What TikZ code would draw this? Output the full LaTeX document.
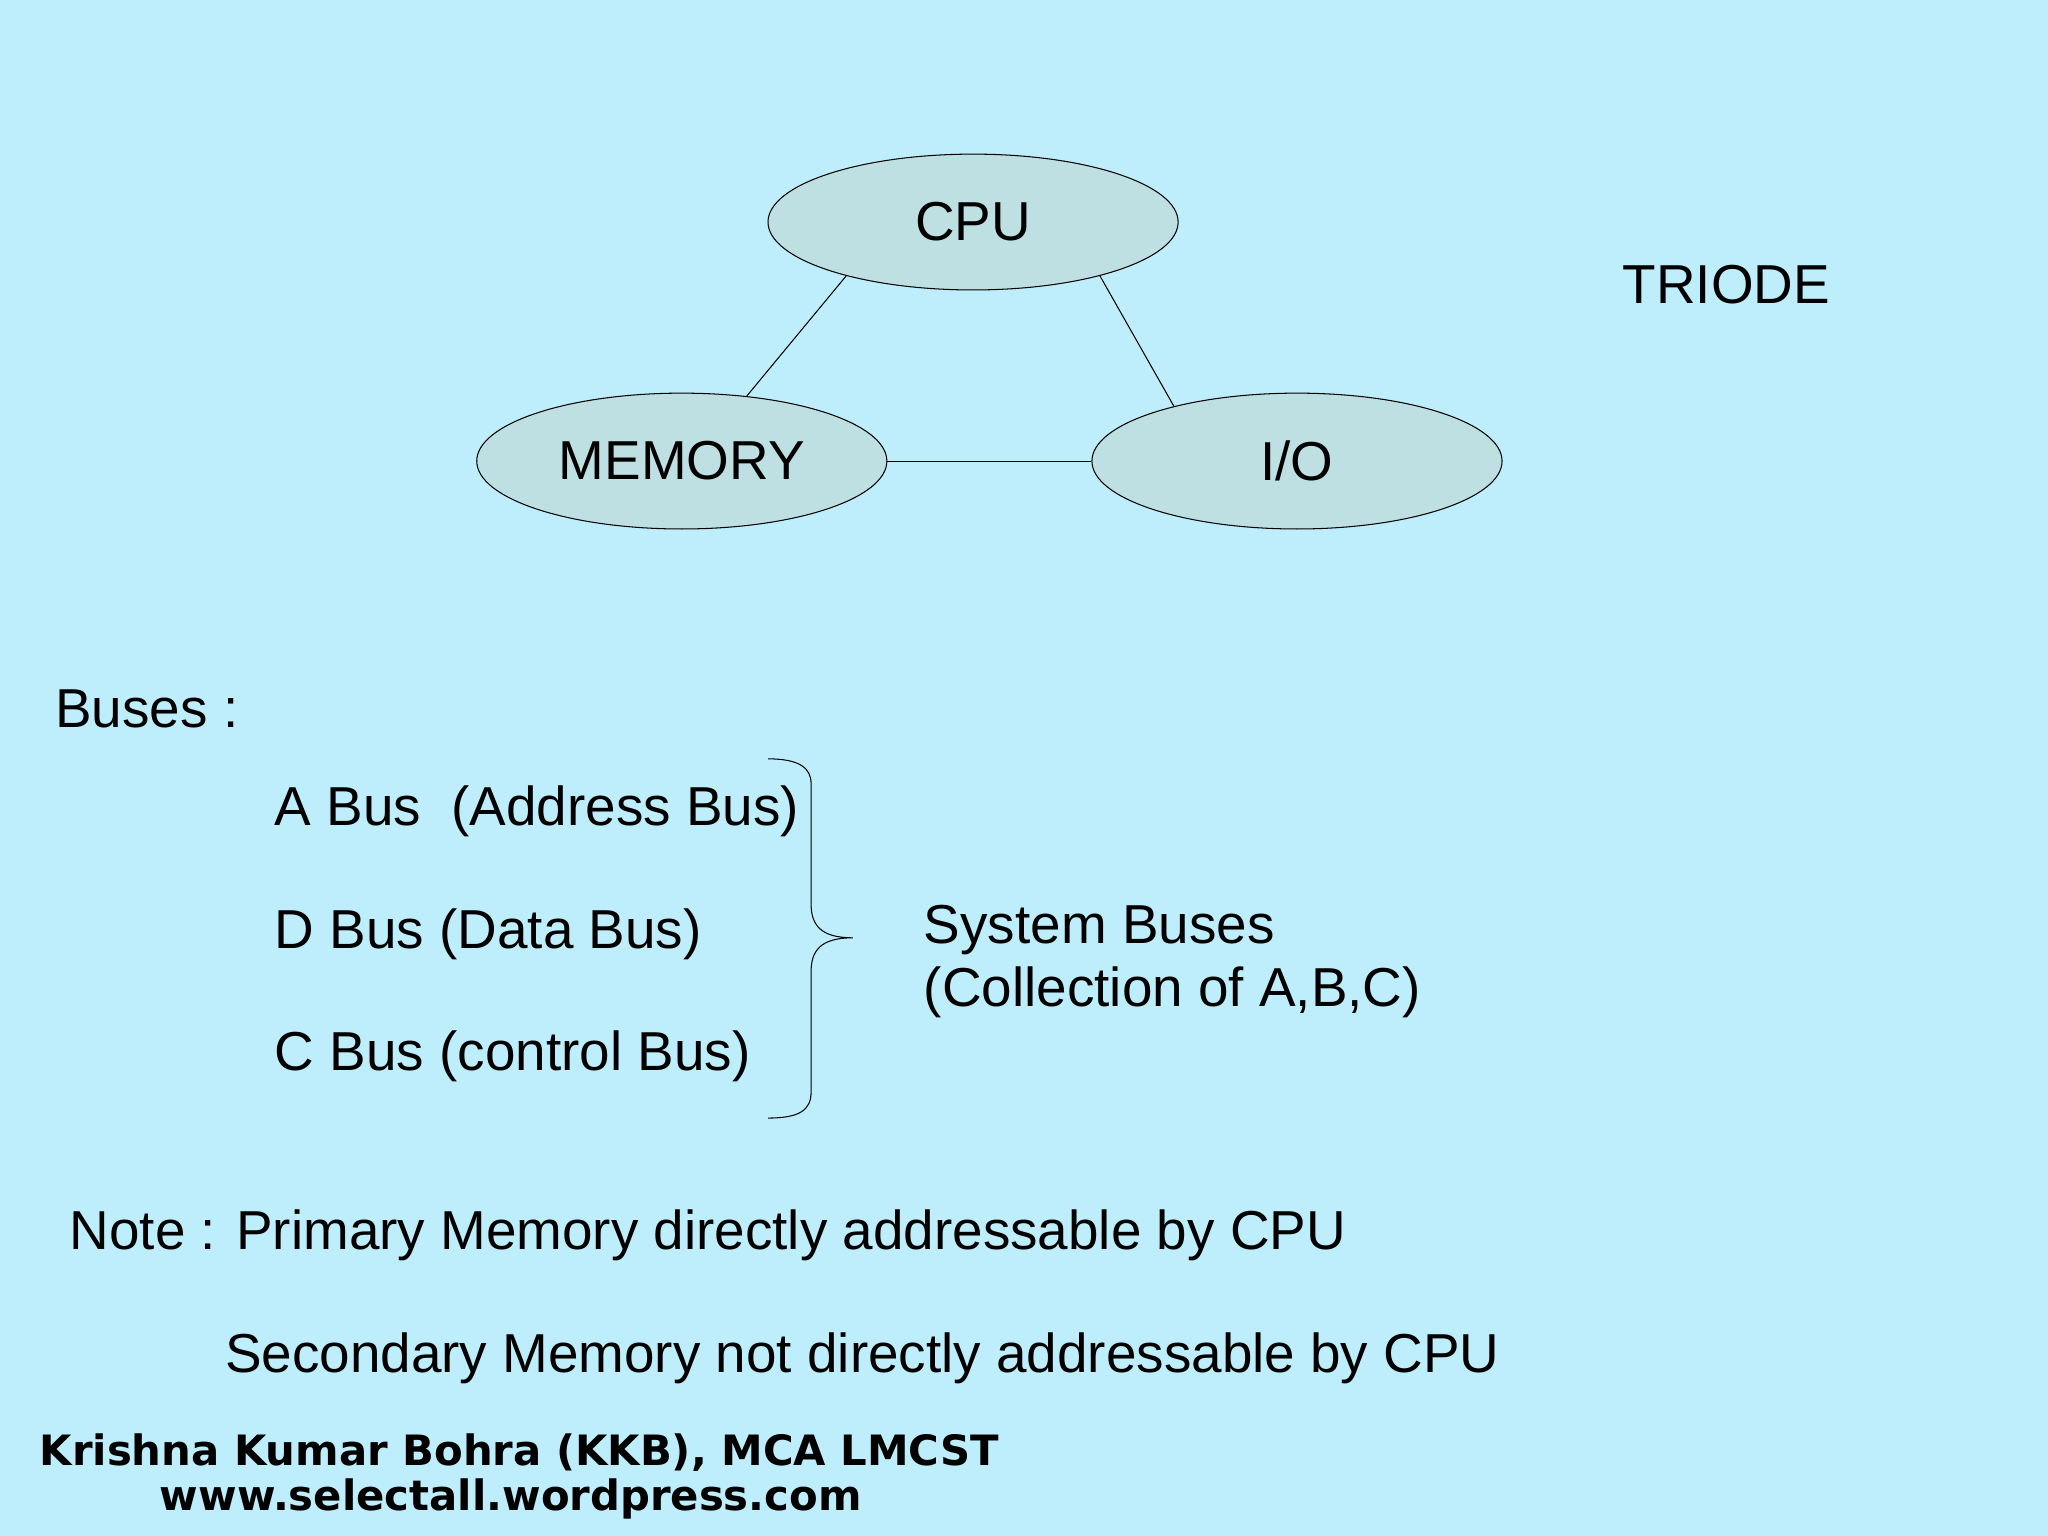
\documentclass[tikz,border=0pt]{standalone}
\usepackage{fontspec}
\setmainfont{Liberation Sans}
\newfontfamily\footfont{DejaVu Sans}
\usetikzlibrary{shapes.geometric}
\definecolor{bg}{RGB}{190,238,252}
\definecolor{ellfill}{RGB}{190,224,226}
\begin{document}
\begin{tikzpicture}[x=0.5pt,y=-0.5pt,
  unit/.style={ellipse,draw=black,fill=ellfill,minimum width=314*0.5pt,minimum height=104*0.5pt,inner sep=0pt,font=\fontsize{21}{25}\selectfont},
  txt/.style={anchor=west,inner sep=0pt,font=\fontsize{21}{25}\selectfont},
  foot/.style={anchor=west,inner sep=0pt,font=\footfont\bfseries\fontsize{16}{19}\selectfont}]
\fill[bg] (0,0) rectangle (1568,1176);
\useasboundingbox (0,0) rectangle (1568,1176);
\node[unit] (cpu) at (745,170) {CPU};
\node[unit] (mem) at (522,353) {MEMORY};
\node[unit] (io) at (993,353) {I/O};
\draw (cpu.203) -- (mem.45);
\draw (cpu.337) -- (io.156);
\draw (mem.east) -- (io.west);
\node[txt] (tri) at (1242,218) {TRIODE};
\node[txt] (buses) at (42,543) {Buses :};
\node[txt] (ab) at (210,621) {A Bus\ \ (Address Bus)};
\node[txt] (db) at (210,715) {D Bus (Data Bus)};
\node[txt] (cb) at (210,809) {C Bus (control Bus)};
\draw (588,581) .. controls (612,581) and (621,588) .. (621,600) -- (621,692)
  .. controls (621,708) and (628,718) .. (653,718)
  .. controls (628,718) and (621,728) .. (621,744) -- (621,836)
  .. controls (621,850) and (612,856) .. (588,856);
\node[txt] (sys) at (707,712) {System Buses};
\node[txt] (col) at (707,760) {(Collection of A,B,C)};
\node[txt] (n1) at (53,946) {Note : Primary Memory directly addressable by CPU};
\node[txt] (n2) at (172,1040) {Secondary Memory not directly addressable by CPU};
\node[foot] (f1) at (30,1112) {Krishna Kumar Bohra (KKB), MCA LMCST};
\node[foot] (f2) at (122,1148) {www.selectall.wordpress.com};
\end{tikzpicture}
\end{document}
